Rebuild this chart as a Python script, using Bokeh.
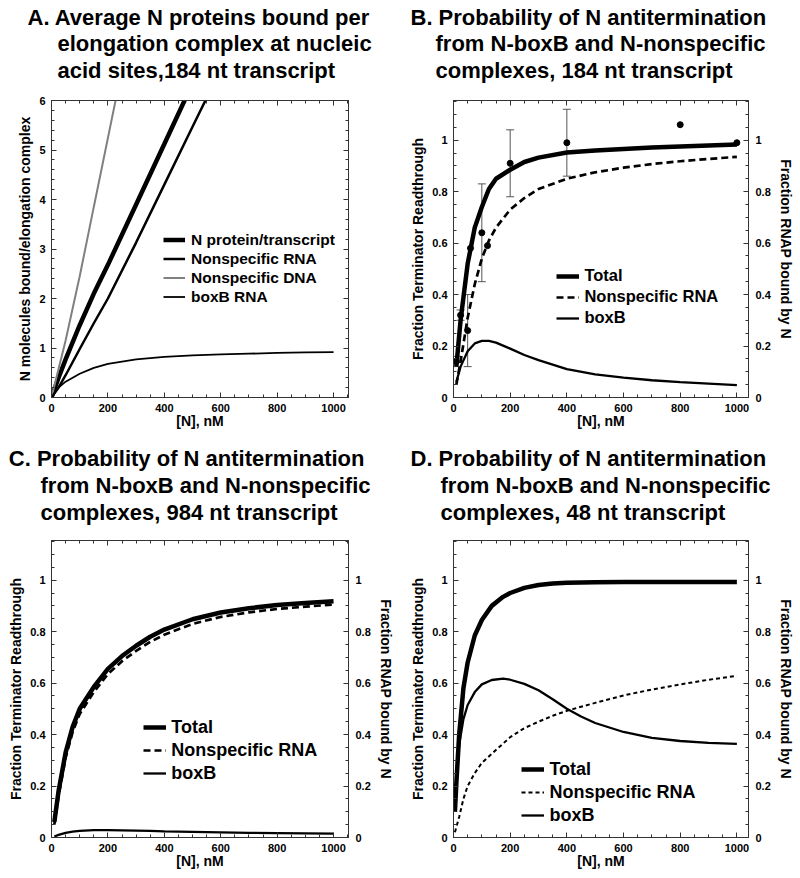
from bokeh.plotting import figure
from bokeh.models import (Range1d, LinearAxis, SingleIntervalTicker, CustomJSTickFormatter,
                          Legend, LegendItem, Label, Whisker, ColumnDataSource, TeeHead)
from bokeh.layouts import column, row
from bokeh.embed import file_html
from bokeh.resources import INLINE

FONT = "Liberation Sans"
FRAME = "#333333"

# ------------------------------------------------------------------ data
x_label = "[N], nM"
frac_label = "Fraction Terminator Readthrough"
rnap_label = "Fraction RNAP bound by N"
bcd_names = ["Total", "Nonspecific RNA", "boxB"]

# Panel A
a_title = ["A. Average N proteins bound per",
           "elongation complex at nucleic",
           "acid sites,184 nt transcript"]
a_ylabel = "N molecules bound/elongation complex"
a_names = ["N protein/transcript", "Nonspecific RNA", "Nonspecific DNA", "boxB RNA"]
a_total_x = [0, 10, 25, 50, 100, 150, 200, 300, 400, 480]
a_total_y = [0, 0.16, 0.40, 0.77, 1.46, 2.10, 2.68, 3.90, 5.12, 6.10]
a_rna_x = [0, 25, 50, 100, 150, 200, 300, 400, 500, 550]
a_rna_y = [0, 0.20, 0.45, 0.98, 1.50, 2.00, 3.13, 4.30, 5.47, 6.05]
a_dna_x = [0, 50, 100, 150, 230]
a_dna_y = [0, 1.15, 2.45, 3.85, 6.08]
a_boxb_x = [0, 10, 25, 50, 100, 150, 200, 300, 400, 500, 600, 700, 800, 900, 1000]
a_boxb_y = [0, 0.09, 0.20, 0.32, 0.48, 0.60, 0.68, 0.77, 0.82, 0.85, 0.87, 0.885, 0.90, 0.91, 0.915]

# Panel B
b_title = ["B. Probability of N antitermination",
           "from N-boxB and N-nonspecific",
           "complexes, 184 nt transcript"]
b_x = [10, 25, 50, 75, 100, 125, 150, 200, 250, 300, 400, 500, 600, 700, 800, 900, 1000]
b_total = [0.12, 0.30, 0.52, 0.66, 0.74, 0.81, 0.85, 0.885, 0.915, 0.932, 0.952, 0.96,
           0.966, 0.971, 0.975, 0.979, 0.983]
b_rna = [0.05, 0.14, 0.31, 0.44, 0.54, 0.61, 0.66, 0.73, 0.775, 0.81, 0.85, 0.875,
         0.893, 0.907, 0.918, 0.927, 0.935]
b_boxb = [0.06, 0.12, 0.18, 0.21, 0.22, 0.22, 0.213, 0.19, 0.165, 0.145, 0.11, 0.09,
          0.077, 0.067, 0.06, 0.054, 0.048]
b_pt_x = [10, 25, 50, 60, 100, 120, 200, 400, 800, 1000]
b_pt_y = [0.14, 0.32, 0.26, 0.58, 0.64, 0.59, 0.91, 0.99, 1.06, 0.99]
b_err_x = [10, 25, 50, 100, 200, 400]
b_err_lo = [0.12, 0.30, 0.12, 0.45, 0.78, 0.86]
b_err_hi = [0.16, 0.34, 0.40, 0.83, 1.04, 1.12]

# Panel C
c_title = ["C. Probability of N antitermination",
           "from N-boxB and N-nonspecific",
           "complexes, 984 nt transcript"]
c_x = [10, 25, 50, 75, 100, 150, 200, 250, 300, 350, 400, 500, 600, 700, 800, 900, 1000]
c_total = [0.06, 0.18, 0.33, 0.43, 0.50, 0.585, 0.655, 0.705, 0.745, 0.78, 0.808, 0.848,
           0.874, 0.891, 0.903, 0.911, 0.918]
c_rna = [0.05, 0.16, 0.31, 0.41, 0.48, 0.565, 0.635, 0.685, 0.725, 0.76, 0.788, 0.83,
         0.857, 0.875, 0.888, 0.897, 0.905]
c_boxb = [0.004, 0.01, 0.018, 0.023, 0.026, 0.029, 0.029, 0.028, 0.027, 0.026, 0.024,
          0.022, 0.02, 0.018, 0.017, 0.016, 0.015]

# Panel D
d_title = ["D. Probability of N antitermination",
           "from N-boxB and N-nonspecific",
           "complexes, 48 nt transcript"]
d_x = [5, 10, 20, 35, 50, 75, 100, 135, 175, 200, 250, 300, 350, 400, 450, 500, 600, 700,
       800, 900, 1000]
d_total = [0.10, 0.21, 0.40, 0.58, 0.68, 0.785, 0.845, 0.90, 0.935, 0.95, 0.97, 0.981,
           0.987, 0.99, 0.991, 0.992, 0.993, 0.993, 0.993, 0.993, 0.993]
d_rna = [0.02, 0.04, 0.08, 0.15, 0.20, 0.25, 0.29, 0.325, 0.365, 0.39, 0.425, 0.45,
         0.473, 0.492, 0.508, 0.523, 0.552, 0.575, 0.595, 0.613, 0.628]
d_boxb = [0.10, 0.21, 0.36, 0.46, 0.515, 0.565, 0.595, 0.612, 0.617, 0.613, 0.597, 0.572,
          0.537, 0.50, 0.47, 0.445, 0.41, 0.387, 0.375, 0.368, 0.364]


# ------------------------------------------------------------------ helpers
def style_axis(ax, tick_standoff=6, label_standoff=2):
    ax.axis_line_color = FRAME
    ax.axis_line_width = 1
    ax.major_tick_line_color = FRAME
    ax.minor_tick_line_color = FRAME
    ax.major_tick_in = 5
    ax.major_tick_out = 0
    ax.minor_tick_in = 3
    ax.minor_tick_out = 0
    ax.major_label_standoff = tick_standoff
    ax.axis_label_standoff = label_standoff
    ax.major_label_text_font = FONT
    ax.major_label_text_font_style = "bold"
    ax.major_label_text_font_size = "11px"
    ax.major_label_text_color = "black"
    ax.axis_label_text_font = FONT
    ax.axis_label_text_font_style = "bold"
    ax.axis_label_text_font_size = "14px"
    ax.axis_label_text_color = "black"


def blank_axis(ticker):
    ax = LinearAxis(ticker=ticker, formatter=CustomJSTickFormatter(code="return ''"))
    style_axis(ax, 0, 0)
    ax.major_label_text_font_size = "1px"
    return ax


def make_fig(w, h, xmax, ymax, bl, br, bt, bb, yint, ynminor, ylabel, right_label=None,
             yfmt=None):
    p = figure(width=w, height=h, x_range=Range1d(0, xmax), y_range=Range1d(0, ymax),
               output_backend="svg", toolbar_location=None, title_location=None,
               min_border_left=bl, min_border_right=br, min_border_top=bt,
               min_border_bottom=bb, background_fill_color="white",
               border_fill_color="white")
    p.grid.visible = False
    p.outline_line_color = FRAME
    xt = SingleIntervalTicker(interval=200, num_minor_ticks=4)
    yt = SingleIntervalTicker(interval=yint, num_minor_ticks=ynminor)
    p.xaxis.ticker = xt
    p.yaxis.ticker = yt
    p.xaxis.axis_label = x_label
    p.yaxis.axis_label = ylabel
    if yfmt is not None:
        p.yaxis.formatter = yfmt
    for ax in p.xaxis:
        style_axis(ax, tick_standoff=6, label_standoff=-2)
    for ax in p.yaxis:
        style_axis(ax, tick_standoff=6, label_standoff=3)
    p.add_layout(blank_axis(xt), "above")
    if right_label:
        right = LinearAxis(ticker=yt, axis_label=right_label,
                           formatter=CustomJSTickFormatter(
                               code="return (Math.round(tick*10)/10).toString();"))
        style_axis(right, tick_standoff=7, label_standoff=4)
    else:
        right = blank_axis(yt)
    p.add_layout(right, "right")
    return p


def title_fig(w, h, lines, xs, ys):
    t = figure(width=w, height=h, x_range=Range1d(0, 1), y_range=Range1d(0, 1),
               output_backend="svg", toolbar_location=None, title_location=None,
               x_axis_location=None, y_axis_location=None,
               min_border_left=0, min_border_right=0, min_border_top=0,
               min_border_bottom=0, background_fill_color="white",
               border_fill_color="white", outline_line_color=None)
    t.grid.visible = False
    for txt, x, y in zip(lines, xs, ys):
        t.add_layout(Label(x=x, y=y, x_units="screen", y_units="screen", text=txt,
                           text_font=FONT, text_font_style="bold", text_font_size="22px",
                           text_baseline="middle", text_align="left", text_color="black"))
    return t


def add_legend(p, items, loc, glyph_w, row_h, spacing, font_size, standoff):
    leg = Legend(items=[LegendItem(label=n, renderers=[r]) for n, r in items],
                 location=loc, border_line_color=None, background_fill_alpha=0,
                 padding=0, margin=0, spacing=spacing, glyph_width=glyph_w,
                 glyph_height=row_h, label_height=row_h, label_standoff=standoff,
                 label_text_font=FONT, label_text_font_style="bold",
                 label_text_font_size=font_size, label_text_color="black")
    p.add_layout(leg)


def yfmt_frac():
    return CustomJSTickFormatter(code="return (Math.round(tick*10)/10).toString();")


TH = 88  # title strip height

# ------------------------------------------------------------------ titles
tA = title_fig(400, TH, a_title, [27, 57, 57], [71.3, 44.7, 18])
tB = title_fig(400, TH, b_title, [10, 35, 35], [71.3, 44.7, 18])
tC = title_fig(400, TH, c_title, [8.3, 40, 40], [69.7, 43, 16.3])
tD = title_fig(400, TH, d_title, [10, 40, 40], [69.7, 43, 16.3])

# ------------------------------------------------------------------ panel A
pA = make_fig(400, 352, 1053, 6, 51, 52, 12, 43, 1, 5, a_ylabel)
rA_tot = pA.line(a_total_x, a_total_y, line_color="black", line_width=4.5)
rA_rna = pA.line(a_rna_x, a_rna_y, line_color="black", line_width=2.5)
rA_dna = pA.line(a_dna_x, a_dna_y, line_color="#808080", line_width=2)
rA_box = pA.line(a_boxb_x, a_boxb_y, line_color="black", line_width=1.8)
add_legend(pA, list(zip(a_names, [rA_tot, rA_rna, rA_dna, rA_box])), (112, 91), 22, 19, 0,
           "15.5px", 6)

# ------------------------------------------------------------------ panel B
pB = make_fig(400, 352, 1041, 1.154, 53, 52, 12, 43, 0.2, 4, frac_label,
              right_label=rnap_label, yfmt=yfmt_frac())
rB_tot = pB.line(b_x, b_total, line_color="black", line_width=4.5)
rB_rna = pB.line(b_x, b_rna, line_color="black", line_width=2.7, line_dash="7 4")
rB_box = pB.line(b_x, b_boxb, line_color="black", line_width=2.3)
err_src = ColumnDataSource(dict(x=b_err_x, lo=b_err_lo, hi=b_err_hi))
pB.add_layout(Whisker(source=err_src, base="x", lower="lo", upper="hi",
                      dimension="height", line_color="#555555", line_width=1,
                      upper_head=TeeHead(size=8, line_color="#555555", line_width=1),
                      lower_head=TeeHead(size=8, line_color="#555555", line_width=1)))
pB.scatter(b_pt_x, b_pt_y, size=6, color="black")
add_legend(pB, list(zip(bcd_names, [rB_tot, rB_rna, rB_box])), (103.4, 69.3), 23, 20, 1,
           "16.5px", 5)

# ------------------------------------------------------------------ panel C
pC = make_fig(400, 349, 1053, 1.154, 51, 52, 12, 40, 0.2, 4, frac_label,
              right_label=rnap_label, yfmt=yfmt_frac())
rC_tot = pC.line(c_x, c_total, line_color="black", line_width=4.5)
rC_rna = pC.line(c_x, c_rna, line_color="black", line_width=2.7, line_dash="7 4")
rC_box = pC.line(c_x, c_boxb, line_color="black", line_width=2.3)
add_legend(pC, list(zip(bcd_names, [rC_tot, rC_rna, rC_box])), (92.3, 52.7), 23, 22, 1,
           "18px", 5)

# ------------------------------------------------------------------ panel D
pD = make_fig(400, 349, 1041, 1.154, 53, 52, 12, 40, 0.2, 4, frac_label,
              right_label=rnap_label, yfmt=yfmt_frac())
rD_tot = pD.line(d_x, d_total, line_color="black", line_width=4.5)
rD_rna = pD.line(d_x, d_rna, line_color="black", line_width=2, line_dash="4 3")
rD_box = pD.line(d_x, d_boxb, line_color="black", line_width=2.3)
add_legend(pD, list(zip(bcd_names, [rD_tot, rD_rna, rD_box])), (68.4, 11), 23, 22, 1,
           "18px", 5)

layout = column(row(tA, tB), row(pA, pB), row(tC, tD), row(pC, pD))
open("out.html", "w").write(file_html(layout, INLINE))
